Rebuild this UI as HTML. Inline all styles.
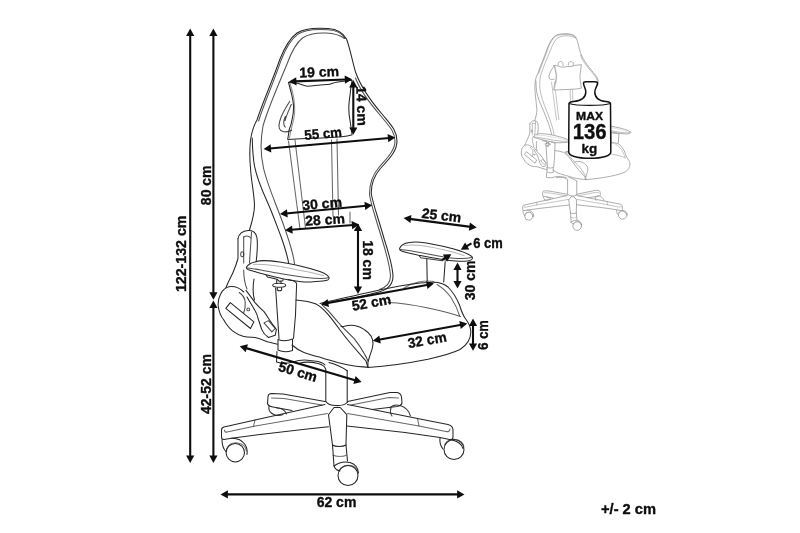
<!DOCTYPE html>
<html><head><meta charset="utf-8">
<style>
html,body{margin:0;padding:0;background:#fff;}
body{width:800px;height:533px;overflow:hidden;font-family:"Liberation Sans",sans-serif;}
svg{display:block}
text{font-family:"Liberation Sans",sans-serif;font-weight:bold;fill:#0d0d0d;stroke:#0d0d0d;stroke-width:.35px;stroke-linejoin:round;}
</style></head><body>
<svg width="800" height="533" viewBox="0 0 800 533">
<defs>
<g id="pillow" fill="none" stroke-linecap="round" stroke-linejoin="round">
<path d="M288.400,82.200 C292,83 295,83 298.200,83.500 C301.500,84.200 304,86 307.400,86.200 C311.500,86.300 316,85.200 320.600,84.900 C324,84.700 327,84.800 329.800,84.200 C332,83.700 334,82.600 336.300,82.200 C341.500,81.400 347,80.800 352.100,80.300 C351.200,85 350.500,90 350.100,94.700 C349.500,99 348.800,103.500 348.800,107.900 C348.800,112.500 349.300,117 350.100,121 C350.800,125.500 351.500,130.500 352.100,134.800 C348.500,135.600 345,136.400 341.600,136.800 C328,137.800 314,138.400 300.900,138.700 C296.500,138.900 292,139.200 287.700,139.400 C288.300,136.500 288.700,133.500 289,130.200 C290.500,126.500 291.800,122.500 292.300,118.400 C293.200,114.500 293.600,110.500 293.600,106.500 C293.300,102.500 292.600,98.500 291.700,94.700 C290.700,90.500 289.500,86.300 288.400,82.200 Z" fill="#fff"/>
<path d="M290,83.500 C291.500,88 293,93 293.800,98 C294.600,103 295,108 294.600,113 C294.200,118 293,123 291.500,128 C290.600,131.500 290,135 289.500,138" stroke-opacity=".5"/>
</g>
<g id="chair" fill="none" stroke-linecap="round" stroke-linejoin="round">
<!-- CHAIR-START -->
<!-- backrest outer -->
<path d="M249.5,230 C252,222 254.5,213 254.5,205 C254,192 251,180 250.5,168 C249.5,158 249.5,150 250.5,140 C252,130 254,125 257,120 C262,104 272,82 280,59 C284,49 289.500,38.500 297,33 C304,28.300 318,27.800 328,28.500 C337,29.200 343,32 346.500,39 C350,48 352,60 355.500,72 C360,85 370,100 382,114 C390,124 397,130 397,141 C397,152 388,160 380,169 C374,176 371,184 371.300,194 C372.300,199 374.500,207 377,215 C379.500,223 382,231.500 384.500,240 C389,254 392.500,266 393,276 C393,284 388.500,289 380.500,291.500 C366,296 340,300 322,304"/>
<path d="M252.200,138 C252.500,148 253,158 254.500,166 C257,178 262,190 266.500,200 C272,212 277,226 281,236.500 C284,245 287.500,255 289,265"/>
<path d="M258.600,121 C263.400,105 273.400,83 281.300,59.700 C285.100,49.700 290.300,39.800 297.700,34.300 C304.400,29.700 318,29.100 328,29.800 C336.300,30.400 342,32.800 345.300,38.500 M355.500,78 C360.500,92 371,104.500 380,115 C388,125 395,131 395,141 C395,151 386,159 378.500,168 C372.500,175 369.500,184 369.500,194.500 C370.300,200 372.500,208 375,216 C377.300,224 379.800,232 382.300,240 C386.500,254 390,266 390.500,276 C390.500,282.500 387,287 379.500,289.500" stroke-opacity=".8"/>
<!-- backrest inner piping -->
<path d="M294.500,264 C293.500,253 289,240 282.500,222 C276,204 267,184 263.500,168 C260.500,155 260,142 263,126 C268,108 278,86 287,64 C291,53 296,43 302.500,38 C308,34 318,32.800 326,33 C334,33.300 340,35 344.500,38.500" stroke-opacity=".8"/>
<!-- stripes -->
<path d="M288.500,141 L300,229 M295,140 L305.500,228 M331.5,140 L333,216 M337,139 L338.5,215 M350,212 L350,223" stroke-opacity=".7"/>
<!-- recliner bracket -->
<path d="M238,238.500 C239,234 243,231 248,230.500 C253,230 256,233 257,238 C258,246 257,255 256,263 M254,279 C253,285 252.500,293 254.500,300"/>
<path d="M238,238.500 L238,258.500 C236.500,264 234.500,269 233,272.500 C231,277 228.500,281 226,287.500"/>
<path d="M243.700,237 L243.700,263 M243.700,270 C243.700,276 244.500,283 247,289 M251.500,232 C251,242 250,253 249.500,263" stroke-opacity=".8"/>
<path d="M243.700,237 C246,235.500 249,236 250.800,238" stroke-opacity=".8"/>
<ellipse cx="242.200" cy="254.300" rx="1.500" ry="2.500" stroke-opacity=".8"/>
<!-- recliner disc -->
<path d="M243.800,292 C240,288.300 234,286 229,286.800 C222,288.500 217.600,297 218.200,306 C219,312 221,316.500 223.500,319.500 C226,324 229,328 232.500,330.800 C236,333.500 240,335.500 243.800,336.400 C247.500,337.300 251,337.200 255,337.500 C260,338.500 264,340.500 268.500,342 L277.500,344.300"/>
<path d="M239.200,292.500 C243,295 245,298 245.200,302.500 C245.500,306.500 244.800,310 243.700,312.800" stroke-opacity=".85"/>
<path d="M225.800,308.300 L230.300,302.600 L253.900,321.800 L250.500,328.500 Z"/>
<path d="M246,290.300 C249,294 252,298.500 255,302.600 C258,306 261,309 264,311.600 C266.500,315 268.500,318.500 270.800,321.800 C272.500,324.500 274.500,327 276.400,329.600 L275.200,335.300 L268.500,337.500 C265.500,335.500 263,332.500 261.800,329.600 C260.500,326 259.500,322.500 258.400,319.500 C257.500,316 256.500,313 255,310.500 C252.500,306 249.500,301.500 247,297"/>
<path d="M264,322.900 L268.500,320.600 L275.200,328.500 L271.900,331.900 Z" stroke-opacity=".85"/>
<circle cx="248.300" cy="309.400" r="1.400" stroke-opacity=".8"/>
<!-- left armrest pad -->
<path d="M246.600,266.900 C248,264.500 251,262.800 254.800,261.900 C258,261 261,260.600 263.500,260.600 C269,260.600 274,261.200 279.800,261.900 C285,262.700 291,263.800 296,265 C301,266.100 306,267.300 311,268.800 C315.500,270.100 320,271.500 323.500,273.100 C326,274.300 327.800,275.600 328.800,277 C329.500,278.200 329,279.300 327.900,279.900 C324,281.200 320,281.300 316,281.400 C312,281.800 307.500,282 303.500,281.900 C299.500,281.600 296,281.200 292.200,280.600 C288,279.900 284,279 279.800,278.100 C275.500,277.100 271.500,276.100 267.200,275 C263.500,274 259.500,273 256,271.900 C253,271 250,270.200 247.900,269.400 C246.600,268.800 246.200,267.800 246.600,266.900 Z" fill="#fff"/>
<path d="M247.200,268.100 C252,268.500 256.500,269.200 261,270 C266.500,271 272,272.100 277.200,273.100 C282.500,274.100 287.500,274.900 292.200,275.600 C297,276.400 301.500,277 306,277.500 C311,278.100 316,278.500 321,278.500 C324,278.400 326.500,278.200 328.500,277.700" stroke-opacity=".8"/>
<path d="M253.500,264.400 C260,264 266,264.800 273.500,265.600 C280,266.500 286,267.500 292.200,268.800 C298.500,270 305,271.300 311,272.500 C316,273.800 320,274.800 323.500,275.600" stroke-opacity=".35"/>
<!-- left armrest post -->
<path d="M266,275 L267.500,277 L277,279.200 L279,281.200 L282.800,280.800 L283,279.500 M276.700,280 L276.700,283.500 M281,281.200 L281,283.500"/>
<ellipse cx="279.200" cy="285.200" rx="6.500" ry="2"/>
<path d="M275.600,288 L279,338.500 M277.300,287.500 L277.300,290 C278.500,290.800 280.500,290.800 281.600,290.300 L281.600,287.500 M296.600,284 L295.500,315 L293.500,338.500 M288,279.500 C292,280 296.500,281.500 296.600,284" />
<path d="M278,339.500 L278,350 C282,352 288,352 292.500,350.500 L292.500,339 C288,341 282,341 278,339.500 Z"/>
<path d="M277,351.500 L276.500,362 C281,363.500 288,363.500 293,362 C299,360 304,359.500 310,360.500 C316,361.500 322,361 325,365"/>
<!-- seat -->
<path d="M296,300 C302,300.5 310,301.5 316,304 C324,308 332,319 340,330 C348,341 358,352 366,361 L368,367.5"/>
<path d="M320,303.5 C340,299 365,293 387,288.5 C402,285.5 416,283 428,282.5 C436,281.500 443,282.500 448,287 C453,292 457,299 459.500,305 C461,310 462.500,315 466,319.500 C469,323.500 470.800,327 470.800,332 C470.800,339 467,345 460,349.500 C452,353.500 440,356.500 428,359.200 C410,362.800 390,366 368,367.500"/>
<path d="M368,367.500 L367.900,362.600 C368.500,359.500 369.500,357 370.400,354.100 C371.800,350.500 372.800,347 373,344 C373,341 372.500,338.500 371.300,336.400 C369.500,333.500 367,331.200 364.500,329.700 C361.500,327.500 358,326 354.400,325.400 C351,324.900 347.500,325.300 344.300,326.300 C342.800,326.700 341.800,326.800 341,326.300"/>
<path d="M322.300,305.200 C325,307.500 328,310.500 330.800,313.600 C334,317.500 337.500,321.500 340.900,325.400 C345.500,330 350,334.500 354.400,338.900 C358,343.500 361.500,348.500 364.500,354.100 C366,356.500 367,358.500 367.900,360.900" stroke-opacity=".85"/>
<path d="M388,302.5 C400,303 414,305 428,308 C442,311 452,313.500 460.500,316.500" stroke-opacity=".75"/>
<path d="M437,284.500 C442,287.500 447,292 451,297.500 C454.500,303 457.500,309 459.500,315.500" stroke-opacity=".7"/>

<!-- seat underside -->
<path d="M292,345 C296,348.500 300,351 304,352.500 C310,354.800 315,356 320.600,357.500 C326,359 332,361 337.500,362.600 C343,364 349,365.200 354.400,366 C359,366.600 364,366.900 368,367.300"/>
<!-- mechanism & column -->
<path d="M300,363 C306,361.5 312,362 318,363.5 C322,364.5 325,366 325.5,369 M329,362.5 C335,364 342,367 347.5,371"/>
<path d="M325.800,369 L325.800,401.500 M347.200,371 L347.200,402.500"/>
<!-- base hub -->
<path d="M325.800,401.500 C329,406.800 343,406.800 347.200,402.500"/>
<path d="M328.500,414.700 L334,407.500 L340.200,407.500 L346.800,414.700 L346,445 M328.500,414.700 L332.500,445"/>
<!-- front arm -->
<path d="M332.5,445 C335,447 343,447 346,445 M332.5,445 L334,466 M346,445 L347.5,461"/>
<path d="M333,455 C336,457 344,457 346.5,455" stroke-opacity=".6"/>
<path d="M334,466 C335,469 337,470.5 340,471 M334,466 C338,463 344,461 350,462.5 C355,464 358,468 358.5,473"/>
<circle cx="348" cy="475.5" r="10"/>
<path d="M339,470.5 C341,466.5 346,464.5 351,465.5 C355,466.5 357.5,469.5 358,473" stroke-opacity=".6"/>
<!-- left front arm -->
<path d="M325,404.5 L255,420 L224,427 C222,427.5 221.5,428.5 221.5,430 L221.5,437 C221.5,438.5 222.5,439.5 224,439.5 L231.500,438.300 L260,434.500 L305,429.300 L328.500,426.800"/>
<path d="M327.5,413.5 L253,426.5 L227,432 C225.5,432.5 224.5,431.5 224.5,430" stroke-opacity=".7"/>
<path d="M255,420 L253.5,426.5" stroke-opacity=".7"/>
<!-- left caster -->
<path d="M222,439.500 C222,444 223,448.500 225.800,451.500 M231.500,438.300 C237,438 242,440.500 245,444.500 C247,447.500 247.500,451 247,454.500"/>
<circle cx="235.300" cy="452.700" r="9.200"/>
<path d="M226.500,449 C228.500,444.500 233,442.300 238,443 C242.500,443.700 245.800,447 246.300,451" stroke-opacity=".6"/>
<!-- back-left arm -->
<path d="M325,401.5 L283,394 L272,393.5 C269.5,393.5 268,395 268,397 L267.5,403.5 C268,405.5 270,406.5 273,407 L292,410.5"/>
<path d="M322,405 L284,398.5 L271.5,398" stroke-opacity=".7"/>
<path d="M269,406 C268.5,409 269.5,412 272,413.5 M277,408 C281,408 285,410.5 286.5,414" stroke-opacity=".9"/>
<path d="M272,413.500 C275,416 280,416 283,414.500" stroke-opacity=".9"/>
<!-- right front arm -->
<path d="M347.500,404.500 L417.500,418.500 L448,424.500 C451.500,425.500 453,427 453,430 L453,437 C453,439 451.500,440 449.500,439.500 L440,437.500 L405,432.500 L347,426"/>
<path d="M347.500,413.500 L419,426 L446,431.500 C448.500,432 450,431 450,429" stroke-opacity=".7"/>
<path d="M417.500,418.500 L419,426" stroke-opacity=".7"/>
<!-- right caster -->
<path d="M440,438 C439.500,442 440.500,446 443,449 M452,440 C457,441 461.500,444 463,448.500"/>
<circle cx="454" cy="449.500" r="10"/>
<path d="M444.500,445 C446.500,441 451,439 455.500,439.500 C460,440 463.500,443 464,447" stroke-opacity=".6"/>
<!-- back-right arm -->
<path d="M347.500,401.500 L390,392.500 L397,392.500 C400,393 401,394.500 401.500,397 L402,403 C401.500,405 400,406 397,406.500 L372,409.500"/>
<path d="M351,405 L389,397.500 L398.500,398" stroke-opacity=".7"/>
<path d="M390,408 C392,405.500 396,404.500 400,405.500 C405,407 409,411 410.500,416 M391,408.500 C390,411 390.500,414 392,416" stroke-opacity=".9"/>
<!-- right armrest -->
<path d="M399.800,248 C401,245.500 404,243.600 408,242.800 C412,242 416,241.900 420,242.300 C430,243.300 443,246.300 453,248.800 C461,251 468,253.800 471.500,256.200 C472.800,257.300 472.800,258.600 471.500,259.600 C469.500,261 464,261.400 459,261.200 C453,260.800 447,260.200 441,259.200 C433,257.900 425,256.400 418.500,255.200 C412,253.800 406,252.400 401.500,251 C400,250.300 399.300,249.200 399.800,248 Z"/>
<path d="M400.500,249.500 C407,250 414,251.300 420,252.500 C428,254 436,255.500 442.500,256.700 C448,257.700 453,258.300 457.500,258.500 C463,258.700 468,258.500 471.500,257.500" stroke-opacity=".8"/>
<path d="M404,245.500 C410,244.500 418,245 426,246.300 C438,248.300 452,251.500 464,255.500" stroke-opacity=".35"/>
<path d="M419.200,255.600 L420.700,257.800 L442.500,260.800 L443.200,259.500" stroke-opacity=".9"/>
<path d="M426.800,259.300 L427.200,280.500 M445.200,261.500 L443.700,282"/>
<!-- seat curve near right armrest -->
<path d="M404,288 C412,282.500 424,280 434,281.500" stroke-opacity=".6"/>
<!-- CHAIR-END -->
</g>
</defs>
<rect width="800" height="533" fill="#fff"/>
<!-- small chair -->
<g transform="translate(427.5,21.600) scale(0.43)" stroke="#9a9a9a" stroke-width="1.9"><use href="#chair"/><path transform="translate(3.5,3)" d="M290,101 C286,107 281.500,115 279.800,121 C278,127 279,130.500 283,131.500 C286,132.300 289.500,131.500 292,130" fill="none"/><g transform="translate(5.8,19.8)"><use href="#pillow"/><path d="M298,82 C297,74 303,71 307,74 C310,76 310,80 309,83 M322,82 C321,74 327,71 331,74 C334,76 334,80 333,83" fill="none"/></g></g>
<!-- main chair -->
<g stroke="#262626" stroke-width="1.050"><use href="#chair"/><use href="#pillow"/><path d="M290,101 C286,107 281.500,115 279.800,121 C278,127 279,130.500 283,131.500 C286,132.300 289.500,131.500 292,130 M285.500,116 C283.500,120.500 283,125 285.500,127.500 M291.500,104 C289,110 286,116 285,121" fill="none" stroke-opacity=".85"/></g>
<g id="lbl" opacity="0.995">
<!-- DIMS -->
<!-- weight icon -->
<path d="M583.500,83.300 C583.500,82.300 584.500,81.800 586,81.800 L595,81.800 C596.500,81.800 597.500,82.300 597.500,83.300 C597.500,86 594.800,88 594.800,92 C594.800,97.500 598,100.800 606,101.600 C608.500,101.800 610,102.300 610.500,103.500 L610.800,152 C610.800,155.500 603,158.300 589.800,158.300 C576.500,158.300 568.700,155.500 568.700,152 L569,103.500 C569.500,102.300 571,101.800 573.500,101.600 C581.500,100.800 585.800,97.500 585.800,92 C585.800,88.500 583.500,86 583.500,83.300 Z" fill="#fff" stroke="#111" stroke-width="1.500" stroke-linejoin="round"/>
<path d="M569,103.500 C576,106 603,106 610.500,103.500" fill="none" stroke="#111" stroke-width="1.200"/>
<text x="589.600" y="120.300" font-size="11" text-anchor="middle" textLength="27" lengthAdjust="spacingAndGlyphs">MAX</text>
<text x="589.700" y="138.800" font-size="21.500" text-anchor="middle" textLength="34" lengthAdjust="spacingAndGlyphs">136</text>
<text x="589.500" y="152.500" font-size="13.500" text-anchor="middle">kg</text>

<!-- ARROWS -->
<polygon points="190.20,28.60 194.30,36.00 186.10,36.00" fill="#0d0d0d"/>
<polygon points="190.20,463.00 186.10,455.60 194.30,455.60" fill="#0d0d0d"/>
<line x1="190.20" y1="34.52" x2="190.20" y2="457.08" stroke="#0d0d0d" stroke-width="2.1"/>
<polygon points="213.40,28.60 217.50,36.00 209.30,36.00" fill="#0d0d0d"/>
<polygon points="213.40,299.70 209.30,292.30 217.50,292.30" fill="#0d0d0d"/>
<line x1="213.40" y1="34.52" x2="213.40" y2="293.78" stroke="#0d0d0d" stroke-width="2.1"/>
<polygon points="213.40,300.50 217.50,307.90 209.30,307.90" fill="#0d0d0d"/>
<polygon points="213.40,463.00 209.30,455.60 217.50,455.60" fill="#0d0d0d"/>
<line x1="213.40" y1="306.42" x2="213.40" y2="457.08" stroke="#0d0d0d" stroke-width="2.1"/>
<polygon points="220.50,494.40 227.90,490.30 227.90,498.50" fill="#0d0d0d"/>
<polygon points="464.50,494.40 457.10,498.50 457.10,490.30" fill="#0d0d0d"/>
<line x1="226.42" y1="494.40" x2="458.58" y2="494.40" stroke="#0d0d0d" stroke-width="2.1"/>
<polygon points="289.00,81.60 296.25,77.23 296.54,85.43" fill="#0d0d0d"/>
<polygon points="352.20,79.30 344.95,83.67 344.66,75.47" fill="#0d0d0d"/>
<line x1="294.92" y1="81.38" x2="346.28" y2="79.52" stroke="#0d0d0d" stroke-width="2.1"/>
<polygon points="353.30,80.00 357.40,87.40 349.20,87.40" fill="#0d0d0d"/>
<polygon points="353.30,134.80 349.20,127.40 357.40,127.40" fill="#0d0d0d"/>
<line x1="353.30" y1="85.92" x2="353.30" y2="128.88" stroke="#0d0d0d" stroke-width="2.1"/>
<polygon points="263.60,149.00 270.62,144.27 271.33,152.44" fill="#0d0d0d"/>
<polygon points="395.30,137.50 388.28,142.23 387.57,134.06" fill="#0d0d0d"/>
<line x1="269.50" y1="148.49" x2="389.40" y2="138.01" stroke="#0d0d0d" stroke-width="2.1"/>
<polygon points="280.00,214.00 286.98,209.22 287.76,217.38" fill="#0d0d0d"/>
<polygon points="372.20,205.20 365.22,209.98 364.44,201.82" fill="#0d0d0d"/>
<line x1="285.89" y1="213.44" x2="366.31" y2="205.76" stroke="#0d0d0d" stroke-width="2.1"/>
<polygon points="285.00,230.20 292.06,225.55 292.69,233.72" fill="#0d0d0d"/>
<polygon points="359.20,224.50 352.14,229.15 351.51,220.98" fill="#0d0d0d"/>
<line x1="290.90" y1="229.75" x2="353.30" y2="224.95" stroke="#0d0d0d" stroke-width="2.1"/>
<polygon points="358.00,223.60 362.10,231.00 353.90,231.00" fill="#0d0d0d"/>
<polygon points="358.00,294.00 353.90,286.60 362.10,286.60" fill="#0d0d0d"/>
<line x1="358.00" y1="229.52" x2="358.00" y2="288.08" stroke="#0d0d0d" stroke-width="2.1"/>
<polygon points="321.00,304.40 327.54,299.03 329.02,307.09" fill="#0d0d0d"/>
<polygon points="434.00,283.60 427.46,288.97 425.98,280.91" fill="#0d0d0d"/>
<line x1="326.82" y1="303.33" x2="428.18" y2="284.67" stroke="#0d0d0d" stroke-width="2.1"/>
<polygon points="372.80,340.80 379.35,335.44 380.81,343.51" fill="#0d0d0d"/>
<polygon points="467.30,323.60 460.75,328.96 459.29,320.89" fill="#0d0d0d"/>
<line x1="378.62" y1="339.74" x2="461.48" y2="324.66" stroke="#0d0d0d" stroke-width="2.1"/>
<polygon points="473.00,318.60 477.10,326.00 468.90,326.00" fill="#0d0d0d"/>
<polygon points="473.00,350.80 468.90,343.40 477.10,343.40" fill="#0d0d0d"/>
<line x1="473.00" y1="324.52" x2="473.00" y2="344.88" stroke="#0d0d0d" stroke-width="2.1"/>
<polygon points="457.50,262.60 461.60,270.00 453.40,270.00" fill="#0d0d0d"/>
<polygon points="457.50,288.40 453.40,281.00 461.60,281.00" fill="#0d0d0d"/>
<line x1="457.50" y1="268.52" x2="457.50" y2="282.48" stroke="#0d0d0d" stroke-width="2.1"/>
<polygon points="403.60,218.10 411.47,214.99 410.41,223.12" fill="#0d0d0d"/>
<polygon points="476.70,227.60 468.83,230.71 469.89,222.58" fill="#0d0d0d"/>
<line x1="409.47" y1="218.86" x2="470.83" y2="226.84" stroke="#0d0d0d" stroke-width="2.1"/>
<polygon points="239.70,346.20 247.96,344.36 245.64,352.22" fill="#0d0d0d"/>
<polygon points="361.60,382.10 353.34,383.94 355.66,376.08" fill="#0d0d0d"/>
<line x1="245.38" y1="347.87" x2="355.92" y2="380.43" stroke="#0d0d0d" stroke-width="2.1"/>
<polygon points="460.80,249.70 465.10,242.41 469.26,249.48" fill="#0d0d0d"/>
<line x1="471.50" y1="243.40" x2="465.90" y2="246.70" stroke="#0d0d0d" stroke-width="2.1"/>
<polygon points="451.30,254.30 447.09,261.64 442.85,254.62" fill="#0d0d0d"/>
<line x1="442.20" y1="259.80" x2="446.23" y2="257.36" stroke="#0d0d0d" stroke-width="2.1"/>
<!-- /ARROWS -->
<text font-size="14" text-anchor="middle" textLength="76.500" lengthAdjust="spacingAndGlyphs" transform="translate(186,253.800) rotate(-90)">122-132 cm</text>
<text font-size="14" text-anchor="middle" transform="translate(210.800,185.300) rotate(-90)">80 cm</text>
<text font-size="14" text-anchor="middle" transform="translate(210.800,384) rotate(-90)">42-52 cm</text>
<text font-size="14" text-anchor="middle" x="336.500" y="507">62 cm</text>
<text font-size="14" text-anchor="middle" x="628.500" y="514" textLength="55" lengthAdjust="spacingAndGlyphs">+/- 2 cm</text>
<text font-size="14" text-anchor="middle" transform="translate(319.300,76.800) rotate(-2)">19 cm</text>
<text font-size="14" text-anchor="middle" transform="translate(357,106) rotate(88)">14 cm</text>
<text font-size="14" text-anchor="middle" textLength="37.500" lengthAdjust="spacingAndGlyphs" transform="translate(323.500,138.300) rotate(-5)">55 cm</text>
<text font-size="14" text-anchor="middle" transform="translate(322.500,208.500) rotate(-5)">30 cm</text>
<text font-size="14" text-anchor="middle" transform="translate(325.400,224.500) rotate(-3.500)">28 cm</text>
<text font-size="14" text-anchor="middle" transform="translate(362.500,260) rotate(90)">18 cm</text>
<text font-size="14" text-anchor="middle" transform="translate(372.200,307.300) rotate(-10.300)">52 cm</text>
<text font-size="14" text-anchor="middle" textLength="39" lengthAdjust="spacingAndGlyphs" transform="translate(428,344.700) rotate(-10.300)">32 cm</text>
<text font-size="14" text-anchor="middle" textLength="29.500" lengthAdjust="spacingAndGlyphs" transform="translate(487.900,334.900) rotate(-90)">6 cm</text>
<text font-size="14" text-anchor="middle" transform="translate(474.900,280.400) rotate(-90)">30 cm</text>
<text font-size="14" text-anchor="middle" transform="translate(441,220.100) rotate(7)">25 cm</text>
<text font-size="14" text-anchor="middle" x="488" y="247.500" textLength="29.500" lengthAdjust="spacingAndGlyphs">6 cm</text>
<text font-size="14" text-anchor="middle" transform="translate(296.500,376.300) rotate(17)">50 cm</text>
<!-- /DIMS -->
</g>
</svg>
</body></html>
